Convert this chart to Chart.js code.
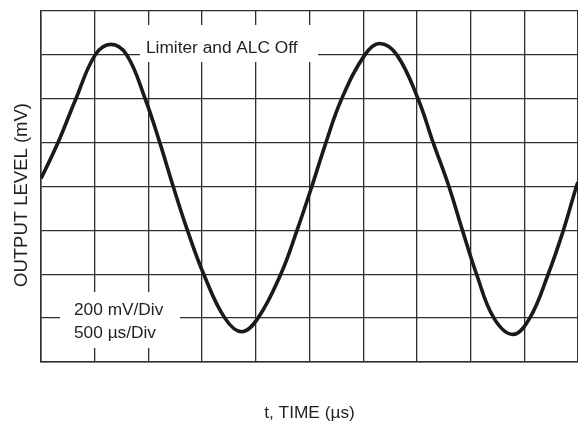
<!DOCTYPE html>
<html>
<head>
<meta charset="utf-8">
<script src="https://cdn.jsdelivr.net/npm/chart.js@4/dist/chart.umd.min.js"></script>
<style>
  html, body { margin: 0; padding: 0; background: #fff; }
  canvas { display: block; }
</style>
</head>
<body>
<canvas id="scope" width="578" height="425"></canvas>
<script>
// values (500 us/div, 200 mV/div, bottom grid line = 0)
const timeUs = [0, 155, 320, 500, 645, 790, 960, 1095, 1220, 1350, 1500, 1695, 1850, 2000,
  2210, 2360, 2495, 2625, 2770, 2985, 3120, 3280, 3475, 3615, 3760, 3885, 4015, 4175, 4350,
  4505, 4675, 4815, 4935, 4950];
const levelMv = [836, 998, 1198, 1400, 1448, 1400, 1200, 1000, 798, 600, 400, 200, 138, 200,
  400, 600, 798, 998, 1198, 1400, 1452, 1400, 1200, 1000, 800, 600, 400, 200, 126,
  200, 400, 600, 800, 820];

const xTitle = "t, TIME (\u00b5s)";
const yTitle = "OUTPUT LEVEL (mV)";
const noteTop = ["Limiter and ALC Off"];
const noteBottom = ["200 mV/Div", "500 \u00b5s/Div"];

const ink = "#231f20";
const gridInk = "#2e2e2e";
const fontFamily = '"Liberation Sans", Arial, Helvetica, sans-serif';

// white boxes with labels sitting on the graticule, plus the side title
const notesPlugin = {
    id: "notes",
    beforeDatasetsDraw(chart) {
        const ctx = chart.ctx;
        ctx.save();
        ctx.fillStyle = "#fff";
        ctx.fillRect(140, 25, 178, 37);
        ctx.fillRect(60, 292, 120, 56);
        ctx.fillStyle = ink;
        ctx.font = "17.3px " + fontFamily;
        ctx.textBaseline = "alphabetic";
        ctx.fillText(noteTop[0], 146, 53);
        ctx.fillText(noteBottom[0], 74, 315);
        ctx.fillText(noteBottom[1], 74, 338);

        ctx.translate(26.5, 195);
        ctx.rotate(-Math.PI / 2);
        ctx.textAlign = "center";
        ctx.font = "18.5px " + fontFamily;
        ctx.fillText(yTitle, 0, 0);
        ctx.restore();
    },
};

new Chart(document.getElementById("scope"), {
    type: "line",
    data: {
        datasets: [{
            data: timeUs.map((t, i) => ({ x: t, y: levelMv[i] })),
            borderColor: "#1a1a1a",
            borderWidth: 3.6,
            pointRadius: 0,
            tension: 0.4,
            fill: false,
        }],
    },
    options: {
        responsive: false,
        animation: false,
        devicePixelRatio: 1,
        layout: { padding: { top: 11, right: 0, left: 0, bottom: 0 } },
        plugins: {
            legend: { display: false },
            tooltip: { enabled: false },
        },
        scales: {
            x: {
                type: "linear",
                min: 0,
                max: 4950,
                ticks: { display: false, stepSize: 500, includeBounds: false },
                grid: { color: gridInk, lineWidth: 1.3, drawTicks: false },
                border: { display: true, color: gridInk, width: 1.5 },
                title: {
                    display: true,
                    text: xTitle,
                    color: ink,
                    font: { family: fontFamily, size: 17.3 },
                    padding: { top: 0, bottom: 1 },
                },
                afterFit(scale) { scale.height = 63; },
            },
            y: {
                type: "linear",
                min: 0,
                max: 1600,
                ticks: { display: false, stepSize: 200 },
                grid: { color: gridInk, lineWidth: 1.3, drawTicks: false },
                border: { display: true, color: gridInk, width: 1.5 },
                afterFit(scale) { scale.width = 41; },
            },
        },
    },
    plugins: [notesPlugin],
});
</script>
</body>
</html>
